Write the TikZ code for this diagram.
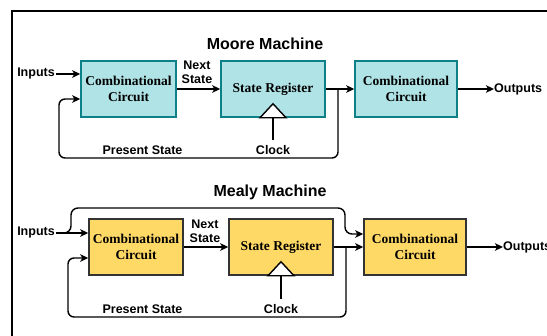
\documentclass[tikz,border=0pt]{standalone}
\usepackage{fontspec}
\setmainfont{Liberation Serif}
\setsansfont{Liberation Sans}
\usetikzlibrary{arrows.meta,calc}

\definecolor{tealfill}{HTML}{B0E3E6}
\definecolor{tealline}{HTML}{0E8088}
\definecolor{goldfill}{HTML}{FFD966}
\definecolor{goldline}{HTML}{333333}

\tikzset{
  block/.style={draw, line width=1.5pt, minimum height=56pt, inner sep=0pt,
    align=center, font=\fontsize{13.5}{16}\selectfont\bfseries},
  moorebox/.style={block, fill=tealfill, draw=tealline},
  mealybox/.style={block, fill=goldfill, draw=goldline},
  lbl/.style={inner sep=1pt, align=center,
    font=\sffamily\bfseries\fontsize{12.5}{14}\selectfont},
  heading/.style={inner sep=0pt, font=\sffamily\bfseries\fontsize{16}{18}\selectfont},
  wire/.style={line width=1.4pt, black},
  arr/.style={wire, -{Stealth[length=8pt,width=7.5pt,inset=2pt]}},
  clocktri/.style={line width=1.4pt, fill=white, draw=black},
}

\begin{document}
\begin{tikzpicture}[x=1pt,y=-1pt]
\useasboundingbox (0,0) rectangle (547,336);
\begin{scope}
\clip (0,0) rectangle (547,336);
% outer frame
\draw[line width=2.5pt] (12,345) -- (12,11) -- (560,11);

% ---------------- Moore machine ----------------
\node[heading] (mt) at (265,44) {Moore Machine};
\node[moorebox, minimum width=95pt] (cc1) at (128.5,89) {Combinational\\Circuit};
\node[moorebox, minimum width=104pt] (sr1) at (273,89) {State Register};
\node[moorebox, minimum width=102pt] (cc2) at (406,89) {Combinational\\Circuit};

\node[lbl] (in1) at (36,74) {Inputs};
\node[lbl] (ns1) at (197,72) {Next\\State};
\node[lbl] (ps1) at (142.5,150) {Present State};
\node[lbl] (ck1) at (273,150) {Clock};
\node[lbl, anchor=west, inner sep=0pt] (out1) at (494,89) {Outputs};

\draw[arr] (in1.east) -- (in1.east -| cc1.west);
\draw[arr] (cc1.east) -- (sr1.west);
\draw[arr] (sr1.east) -- (cc2.west);
\draw[arr] (cc2.east) -- (out1.west);

\coordinate (b1) at (338,89);
\coordinate (f1a) at (338,158);
\coordinate (f1b) at (59,158);
\coordinate (f1c) at (59,99);
\coordinate (e1) at ($(cc1.west)+(0,10)$);
\draw[arr, rounded corners=6pt] (b1) -- (f1a) -- (f1b) -- (f1c) -- (e1);

\draw[clocktri] ($(sr1.south)+(-13,0)$) -- ($(sr1.south)+(0,-14)$) -- ($(sr1.south)+(13,0)$) -- cycle;
\draw[wire] ($(ck1.north)+(0,-4)$) -- (sr1.south);

% ---------------- Mealy machine ----------------
\node[heading] (yt) at (270,192) {Mealy Machine};
\node[mealybox, minimum width=94pt] (cc3) at (136,247) {Combinational\\Circuit};
\node[mealybox, minimum width=104pt] (sr2) at (281,247) {State Register};
\node[mealybox, minimum width=102pt] (cc4) at (415,247) {Combinational\\Circuit};

\node[lbl] (in2) at (36,233) {Inputs};
\node[lbl] (ns2) at (205,231) {Next\\State};
\node[lbl] (ps2) at (142.5,309) {Present State};
\node[lbl] (ck2) at (281,309) {Clock};
\node[lbl, anchor=west, inner sep=0pt] (out2) at (503,247) {Outputs};

\draw[arr] (in2.east) -- (in2.east -| cc3.west);
\draw[arr] (cc3.east) -- (sr2.west);
\draw[arr] (sr2.east) -- (cc4.west);
\draw[arr] (cc4.east) -- (out2.west);

% inputs routed straight to the output logic
\coordinate (j2) at (60,233);
\coordinate (u0) at (71,233);
\coordinate (u1) at (71,208);
\coordinate (u2) at (345,208);
\coordinate (u3) at (345,234);
\coordinate (e4) at ($(cc4.west)+(0,-13)$);
\draw[arr, rounded corners=7pt] (j2) -- (u0) -- (u1) -- (u2) -- (u3) -- (e4);

\coordinate (b2) at (346,247);
\coordinate (f2a) at (346,317);
\coordinate (f2b) at (68,317);
\coordinate (f2c) at (68,258);
\coordinate (e3) at ($(cc3.west)+(0,11)$);
\draw[arr, rounded corners=6pt] (b2) -- (f2a) -- (f2b) -- (f2c) -- (e3);

\draw[clocktri] ($(sr2.south)+(-13,0)$) -- ($(sr2.south)+(0,-14)$) -- ($(sr2.south)+(13,0)$) -- cycle;
\draw[wire] ($(ck2.north)+(0,-4)$) -- (sr2.south);
\end{scope}
\end{tikzpicture}
\end{document}
